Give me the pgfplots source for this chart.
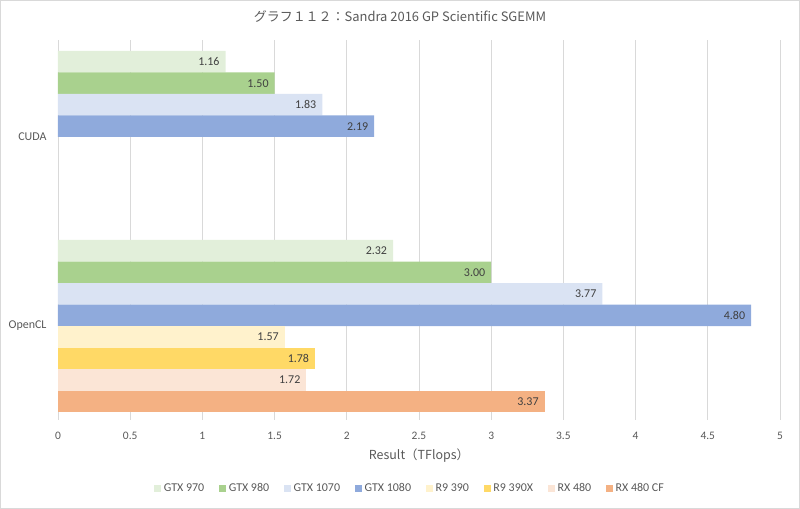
\documentclass[border=0pt]{standalone}
\usepackage{pgfplots}
\pgfplotsset{compat=1.18}
\usepackage{fontspec}
\setmainfont{Carlito}
\newfontfamily\cjk{Noto Sans CJK JP}
\definecolor{c1}{HTML}{E2EFDA}
\definecolor{c2}{HTML}{A9D18E}
\definecolor{c3}{HTML}{DAE3F3}
\definecolor{c4}{HTML}{8FAADC}
\definecolor{c5}{HTML}{FFF2CC}
\definecolor{c6}{HTML}{FFD966}
\definecolor{c7}{HTML}{FBE5D6}
\definecolor{c8}{HTML}{F4B183}
\definecolor{txt}{HTML}{595959}
\definecolor{vtxt}{HTML}{404040}
\definecolor{grd}{HTML}{D9D9D9}
\begin{document}
\begin{tikzpicture}
\path[use as bounding box] (-58bp,-89bp) rectangle (742bp,420bp);
\draw[grd, line width=1bp] (-57.5bp,-88.5bp) rectangle (741.5bp,419.5bp);
\begin{axis}[
  scale only axis, width=722bp, height=380bp,
  xbar, bar width=0.1138,
  xmin=0, xmax=5, ymin=-0.513, ymax=1.497, y dir=reverse,
  ytick={0,1}, yticklabels={CUDA,OpenCL},
  xtick={0,0.5,1,1.5,2,2.5,3,3.5,4,4.5,5},
  xticklabels={0,0.5,1,1.5,2,2.5,3,3.5,4,4.5,5},
  axis line style={draw=none},
  major tick length=0pt,
  xmajorgrids, grid style={draw=grd, line width=0.8bp},
  yticklabel style={font=\fontsize{12}{14}\selectfont, text=txt, xshift=-8bp},
  xticklabel style={font=\fontsize{11.5}{13}\selectfont, text=txt, yshift=-9bp},
  xlabel={Result（TFlops）},
  xlabel style={font=\cjk\fontsize{12.5}{14}\selectfont, text=txt, at={(axis description cs:0.5,0)}, anchor=center, yshift=-36bp},
  point meta=x,
  nodes near coords={\pgfmathprintnumber[fixed,zerofill,precision=2,assume math mode=true]{\pgfplotspointmeta}},
  every node near coord/.append style={font=\fontsize{12}{14}\selectfont, text=vtxt, anchor=east, xshift=-2.5bp},
  legend columns=8,
  legend style={draw=none, fill=none, at={(axis description cs:0.478,-0.179)}, anchor=center,
    font=\fontsize{12}{14}\selectfont, text=txt, column sep=0bp,
    /tikz/every even column/.append style={column sep=0bp},
    /tikz/every odd column/.append style={column sep=0bp},
    nodes={inner xsep=1.5bp}},
  legend image code/.code={\path (-13.5bp,0bp) (8bp,0bp); \fill[#1] (0bp,-3.5bp) rectangle (7bp,3.5bp);},
  clip=false,
]
\addplot[fill=c1, draw=none, bar shift=-3.5*0.1138] coordinates {(1.16,0) (2.32,1)};
\addplot[fill=c2, draw=none, bar shift=-2.5*0.1138] coordinates {(1.50,0) (3.00,1)};
\addplot[fill=c3, draw=none, bar shift=-1.5*0.1138] coordinates {(1.83,0) (3.77,1)};
\addplot[fill=c4, draw=none, bar shift=-0.5*0.1138] coordinates {(2.19,0) (4.80,1)};
\addplot[fill=c5, draw=none, bar shift=0.5*0.1138] coordinates {(1.57,1)};
\addplot[fill=c6, draw=none, bar shift=1.5*0.1138] coordinates {(1.78,1)};
\addplot[fill=c7, draw=none, bar shift=2.5*0.1138] coordinates {(1.72,1)};
\addplot[fill=c8, draw=none, bar shift=3.5*0.1138] coordinates {(3.37,1)};
\legend{GTX 970,GTX 980,GTX 1070,GTX 1080,R9 390,R9 390X,RX 480,RX 480 CF}
\end{axis}
\node[font=\cjk\fontsize{13}{15}\selectfont, text=txt] at (342bp,403bp) {グラフ１１２：Sandra 2016 GP Scientific SGEMM};
\end{tikzpicture}
\end{document}
